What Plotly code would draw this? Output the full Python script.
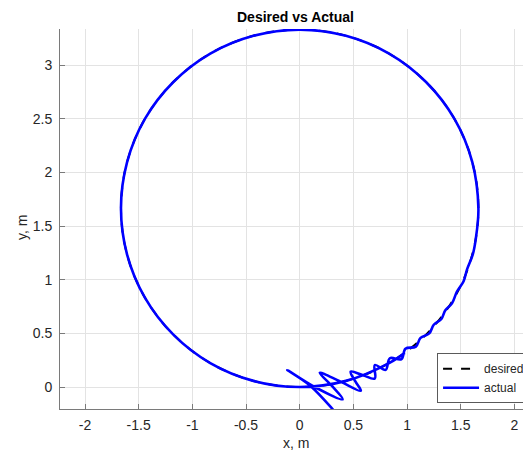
import plotly.graph_objects as go

# Desired circular path, m
desired_x = [0, 0.431, 0.833, 1.177, 1.442, 1.608, 1.665, 1.608, 1.442, 1.177, 0.833, 0.431,
             0, -0.431, -0.833, -1.177, -1.442, -1.608, -1.665, -1.608, -1.442, -1.177, -0.833, -0.431, 0]
desired_y = [0, 0.057, 0.223, 0.488, 0.833, 1.234, 1.665, 2.096, 2.498, 2.842, 3.107, 3.273,
             3.33, 3.273, 3.107, 2.842, 2.498, 2.096, 1.665, 1.234, 0.833, 0.488, 0.223, 0.057, 0]

# Actual trajectory, m
actual_x = [0.40, 0.31, 0.10, -0.115, 0.14, 0.40, 0.30, 0.187, 0.38, 0.57, 0.52, 0.475, 0.59, 0.70, 0.70,
            0.801, 0.840, 0.948, 0.985, 1.082, 1.126, 1.207, 1.249, 1.320, 1.357, 1.419, 1.464, 1.527,
            1.560, 1.612, 1.640, 1.665, 1.608, 1.442, 1.177, 0.833, 0.431, 0, -0.431, -0.833, -1.177,
            -1.442, -1.608, -1.665, -1.608, -1.442, -1.177, -0.833, -0.431, 0, 0.431, 0.833, 0.979]
actual_y = [-0.32, -0.21, 0.01, 0.158, 0.00, -0.115, 0.01, 0.133, 0.05, -0.035, 0.05, 0.143, 0.11, 0.08, 0.205,
            0.160, 0.268, 0.260, 0.357, 0.376, 0.458, 0.499, 0.580, 0.634, 0.715, 0.779, 0.886, 0.986,
            1.098, 1.233, 1.376, 1.665, 2.096, 2.498, 2.842, 3.107, 3.273, 3.33, 3.273, 3.107, 2.842,
            2.498, 2.096, 1.665, 1.234, 0.833, 0.488, 0.223, 0.057, 0, 0.057, 0.223, 0.318]

x_ticks = [-2, -1.5, -1, -0.5, 0, 0.5, 1, 1.5, 2]
y_ticks = [0, 0.5, 1, 1.5, 2, 2.5, 3]

FONT = "Liberation Sans, Arial, Helvetica, sans-serif"
TXT = "#262626"

fig = go.Figure()
fig.add_trace(go.Scatter(x=desired_x, y=desired_y, mode="lines", name="desired",
                         line=dict(color="black", width=2, dash="dash", shape="spline")))
fig.add_trace(go.Scatter(x=actual_x, y=actual_y, mode="lines", name="actual",
                         line=dict(color="#0000ff", width=2.6, shape="spline")))

axis_common = dict(showgrid=True, gridcolor="#e3e3e3", gridwidth=1, zeroline=False,
                   showline=True, linecolor="#7a7a7a", linewidth=1,
                   ticks="inside", ticklen=5, tickcolor="#7a7a7a", automargin=False,
                   tickfont=dict(family=FONT, size=14, color=TXT), mirror=False)

# page body has an 8px margin, so the figure is 8px smaller than the window
fig.update_layout(
    width=523, height=446,
    margin=dict(l=52, r=0, t=21, b=45),
    paper_bgcolor="white", plot_bgcolor="white",
    xaxis=dict(range=[-2.233, 2.155], tickvals=x_ticks, ticktext=[str(v) for v in x_ticks],
               ticklabelstandoff=3, **axis_common),
    yaxis=dict(range=[-0.205, 3.336], tickvals=y_ticks, ticktext=[str(v) for v in y_ticks],
               ticklabelstandoff=4, **axis_common),
    showlegend=True,
    legend=dict(x=0.998, y=0.015, xanchor="right", yanchor="bottom",
                bgcolor="white", bordercolor="#5a5a5a", borderwidth=1, itemwidth=36,
                font=dict(family=FONT, size=12, color=TXT), tracegroupgap=0),
    annotations=[
        dict(text="<b>Desired vs Actual</b>", xref="paper", yref="paper", x=0.5, y=1.0316,
             xanchor="center", yanchor="middle", showarrow=False,
             font=dict(family=FONT, size=14, color="black")),
        dict(text="x, m", xref="paper", yref="paper", x=0.5, y=-0.09,
             xanchor="center", yanchor="middle", showarrow=False,
             font=dict(family=FONT, size=14, color=TXT)),
        dict(text="y, m", xref="paper", yref="paper", x=-0.0807, y=0.479, textangle=-90,
             xanchor="center", yanchor="middle", showarrow=False,
             font=dict(family=FONT, size=14, color=TXT)),
    ],
)

fig.write_html("out.html")
